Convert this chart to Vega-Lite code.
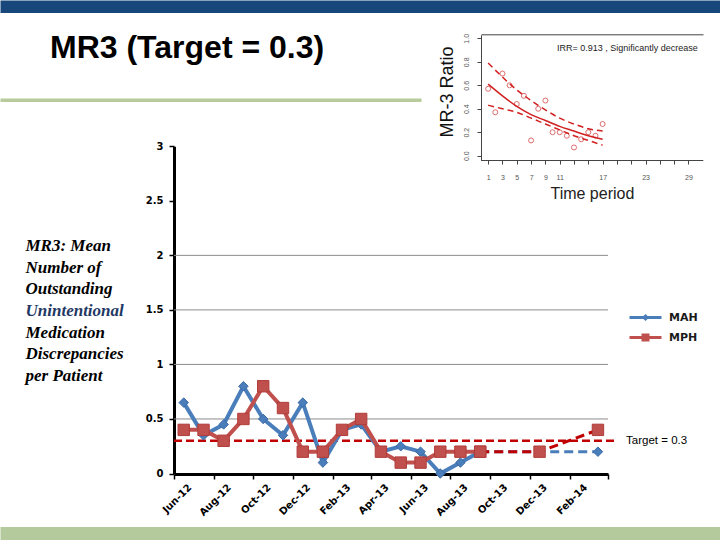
{
  "$schema": "https://vega.github.io/schema/vega-lite/v6.json",
  "width": 720,
  "height": 540,
  "autosize": {"type": "none"},
  "padding": 0,
  "background": "white",
  "config": {
    "view": {"stroke": null},
    "font": "Liberation Sans",
    "axis": {"grid": false}
  },
  "title": {
    "text": "MR3 (Target = 0.3)",
    "anchor": "start",
    "frame": "group",
    "font": "Liberation Sans",
    "fontSize": 32,
    "fontWeight": "bold",
    "color": "#000000",
    "offset": 0,
    "dx": 50,
    "dy": 65
  },
  "datasets": {
    "mr3": [
      {"month": "2012/06/01", "series": "MAH", "value": 0.65, "status": "reported"},
      {"month": "2012/07/01", "series": "MAH", "value": 0.35, "status": "reported"},
      {"month": "2012/08/01", "series": "MAH", "value": 0.45, "status": "reported"},
      {"month": "2012/09/01", "series": "MAH", "value": 0.8, "status": "reported"},
      {"month": "2012/10/01", "series": "MAH", "value": 0.5, "status": "reported"},
      {"month": "2012/11/01", "series": "MAH", "value": 0.35, "status": "reported"},
      {"month": "2012/12/01", "series": "MAH", "value": 0.65, "status": "reported"},
      {"month": "2013/01/01", "series": "MAH", "value": 0.1, "status": "reported"},
      {"month": "2013/02/01", "series": "MAH", "value": 0.4, "status": "reported"},
      {"month": "2013/03/01", "series": "MAH", "value": 0.45, "status": "reported"},
      {"month": "2013/04/01", "series": "MAH", "value": 0.2, "status": "reported"},
      {"month": "2013/05/01", "series": "MAH", "value": 0.25, "status": "reported"},
      {"month": "2013/06/01", "series": "MAH", "value": 0.2, "status": "reported"},
      {"month": "2013/07/01", "series": "MAH", "value": 0.0, "status": "reported"},
      {"month": "2013/08/01", "series": "MAH", "value": 0.1, "status": "reported"},
      {"month": "2013/09/01", "series": "MAH", "value": 0.2, "status": "reported"},
      {"month": "2013/09/01", "series": "MAH", "value": 0.2, "status": "projected"},
      {"month": "2014/03/01", "series": "MAH", "value": 0.2, "status": "projected"},
      {"month": "2012/06/01", "series": "MPH", "value": 0.4, "status": "reported"},
      {"month": "2012/07/01", "series": "MPH", "value": 0.4, "status": "reported"},
      {"month": "2012/08/01", "series": "MPH", "value": 0.3, "status": "reported"},
      {"month": "2012/09/01", "series": "MPH", "value": 0.5, "status": "reported"},
      {"month": "2012/10/01", "series": "MPH", "value": 0.8, "status": "reported"},
      {"month": "2012/11/01", "series": "MPH", "value": 0.6, "status": "reported"},
      {"month": "2012/12/01", "series": "MPH", "value": 0.2, "status": "reported"},
      {"month": "2013/01/01", "series": "MPH", "value": 0.2, "status": "reported"},
      {"month": "2013/02/01", "series": "MPH", "value": 0.4, "status": "reported"},
      {"month": "2013/03/01", "series": "MPH", "value": 0.5, "status": "reported"},
      {"month": "2013/04/01", "series": "MPH", "value": 0.2, "status": "reported"},
      {"month": "2013/05/01", "series": "MPH", "value": 0.1, "status": "reported"},
      {"month": "2013/06/01", "series": "MPH", "value": 0.1, "status": "reported"},
      {"month": "2013/07/01", "series": "MPH", "value": 0.2, "status": "reported"},
      {"month": "2013/08/01", "series": "MPH", "value": 0.2, "status": "reported"},
      {"month": "2013/09/01", "series": "MPH", "value": 0.2, "status": "reported"},
      {"month": "2013/09/01", "series": "MPH", "value": 0.2, "status": "projected"},
      {"month": "2013/12/01", "series": "MPH", "value": 0.2, "status": "projected"},
      {"month": "2014/03/01", "series": "MPH", "value": 0.4, "status": "projected"}
    ],
    "gridlines": [{"value": 0.5}, {"value": 1}, {"value": 1.5}, {"value": 2}],
    "target": [{"label": "Target = 0.3", "value": 0.3}],
    "series": [{"series": "MAH"}, {"series": "MPH"}],
    "trend_points": [
      {"period": 1, "ratio": 0.57}, {"period": 2, "ratio": 0.37}, {"period": 3, "ratio": 0.7},
      {"period": 4, "ratio": 0.6}, {"period": 5, "ratio": 0.44}, {"period": 6, "ratio": 0.51},
      {"period": 7, "ratio": 0.13}, {"period": 8, "ratio": 0.4}, {"period": 9, "ratio": 0.47},
      {"period": 10, "ratio": 0.2}, {"period": 11, "ratio": 0.2}, {"period": 12, "ratio": 0.17},
      {"period": 13, "ratio": 0.07}, {"period": 14, "ratio": 0.14}, {"period": 15, "ratio": 0.2},
      {"period": 16, "ratio": 0.17}, {"period": 17, "ratio": 0.27}
    ],
    "trend_curves": [
      {"period": 1, "curve": "fit", "ratio": 0.61}, {"period": 3, "curve": "fit", "ratio": 0.51},
      {"period": 5, "curve": "fit", "ratio": 0.42}, {"period": 7, "curve": "fit", "ratio": 0.35},
      {"period": 9, "curve": "fit", "ratio": 0.3}, {"period": 11, "curve": "fit", "ratio": 0.25},
      {"period": 13, "curve": "fit", "ratio": 0.21}, {"period": 15, "curve": "fit", "ratio": 0.17},
      {"period": 17, "curve": "fit", "ratio": 0.14},
      {"period": 1, "curve": "upper", "ratio": 0.79}, {"period": 3, "curve": "upper", "ratio": 0.67},
      {"period": 5, "curve": "upper", "ratio": 0.56}, {"period": 7, "curve": "upper", "ratio": 0.47},
      {"period": 9, "curve": "upper", "ratio": 0.39}, {"period": 11, "curve": "upper", "ratio": 0.32},
      {"period": 13, "curve": "upper", "ratio": 0.27}, {"period": 15, "curve": "upper", "ratio": 0.23},
      {"period": 17, "curve": "upper", "ratio": 0.21},
      {"period": 1, "curve": "lower", "ratio": 0.43}, {"period": 3, "curve": "lower", "ratio": 0.4},
      {"period": 5, "curve": "lower", "ratio": 0.37}, {"period": 7, "curve": "lower", "ratio": 0.32},
      {"period": 9, "curve": "lower", "ratio": 0.27}, {"period": 11, "curve": "lower", "ratio": 0.22},
      {"period": 13, "curve": "lower", "ratio": 0.17}, {"period": 15, "curve": "lower", "ratio": 0.13},
      {"period": 17, "curve": "lower", "ratio": 0.09}
    ]
  },
  "layer": [
    {
      "data": {"values": [{"v": 0}]},
      "mark": {"type": "point", "opacity": 0},
      "encoding": {
        "x": {
          "field": "v", "type": "quantitative",
          "scale": {"domain": [0, 1], "range": [0, 720], "nice": false, "zero": false},
          "axis": {"orient": "top", "offset": -6.3, "domainColor": "#17477b", "domainWidth": 12.6, "ticks": false, "labels": false, "title": null}
        }
      }
    },
    {
      "data": {"values": [{"v": 0}]},
      "mark": {"type": "point", "opacity": 0},
      "encoding": {
        "x": {
          "field": "v", "type": "quantitative",
          "scale": {"domain": [0, 1], "range": [0, 720], "nice": false, "zero": false},
          "axis": {"orient": "bottom", "offset": -6.8, "domainColor": "#b4ca9c", "domainWidth": 13.6, "ticks": false, "labels": false, "title": null}
        }
      }
    },
    {
      "data": {"values": [{"v": 0}]},
      "mark": {"type": "point", "opacity": 0},
      "encoding": {
        "x": {
          "field": "v", "type": "quantitative",
          "scale": {"domain": [0, 1], "range": [0, 421], "nice": false, "zero": false},
          "axis": {
            "orient": "top", "offset": -99.7, "domainColor": "#b7cb9d", "domainWidth": 3.5, "ticks": false, "labels": false,
            "title": ["Medication", "Discrepancies", "per Patient"],
            "titleFont": "Liberation Serif", "titleFontStyle": "italic", "titleFontWeight": "bold",
            "titleFontSize": 17, "titleColor": "#000000", "titleLineHeight": 21.6,
            "titleAlign": "left", "titleAngle": 0, "titleBaseline": "alphabetic",
            "titleX": 25, "titleY": 237.6
          }
        }
      }
    },
    {
      "data": {"values": [{"v": 0}]},
      "mark": {"type": "point", "opacity": 0},
      "encoding": {
        "x": {
          "field": "v", "type": "quantitative",
          "scale": {"domain": [0, 1], "range": [481, 703], "nice": false, "zero": false},
          "axis": {"orient": "top", "offset": -34.3, "domainColor": "#444444", "domainWidth": 1, "ticks": false, "labels": false, "title": null}
        }
      }
    },
    {
      "layer": [
        {
          "data": {"name": "gridlines"},
          "mark": {"type": "rule", "color": "#8c8c8c", "strokeWidth": 1},
          "encoding": {
            "x": {
              "datum": {"year": 2012, "month": 6, "date": 1}, "type": "temporal",
              "scale": {"domain": [{"year": 2012, "month": 6, "date": 1}, {"year": 2014, "month": 4, "date": 1}], "range": [174, 608]},
              "axis": {
                "orient": "bottom", "offset": -66,
                "values": [
                  {"year": 2012, "month": 6, "date": 1}, {"year": 2012, "month": 8, "date": 1},
                  {"year": 2012, "month": 10, "date": 1}, {"year": 2012, "month": 12, "date": 1},
                  {"year": 2013, "month": 2, "date": 1}, {"year": 2013, "month": 4, "date": 1},
                  {"year": 2013, "month": 6, "date": 1}, {"year": 2013, "month": 8, "date": 1},
                  {"year": 2013, "month": 10, "date": 1}, {"year": 2013, "month": 12, "date": 1},
                  {"year": 2014, "month": 2, "date": 1}, {"year": 2014, "month": 4, "date": 1}
                ],
                "labelExpr": "datum.index >= 1 ? '' : timeFormat(datum.value, '%b-%y')",
                "labelAngle": -45, "labelAlign": "right", "labelBaseline": "top",
                "labelOffset": 12, "labelPadding": 3,
                "labelFont": "DejaVu Sans", "labelFontWeight": "bold", "labelFontSize": 10, "labelColor": "#000000",
                "labelOverlap": false, "labelBound": false, "labelFlush": false,
                "domainColor": "#000000", "domainWidth": 3,
                "tickColor": "#000000", "tickWidth": 1.5, "tickSize": 5,
                "title": "Unintentional",
                "titleFont": "Liberation Serif", "titleFontStyle": "italic", "titleFontWeight": "bold",
                "titleFontSize": 17, "titleColor": "#1f3864",
                "titleAlign": "left", "titleAngle": 0, "titleBaseline": "alphabetic",
                "titleX": 25, "titleY": -158.3
              }
            },
            "x2": {"datum": {"year": 2014, "month": 4, "date": 1}},
            "y": {
              "field": "value", "type": "quantitative",
              "scale": {"domain": [0, 3], "range": [473.5, 146.3], "nice": false, "zero": false},
              "axis": {
                "orient": "left", "offset": -174,
                "values": [0, 0.5, 1, 1.5, 2, 2.5, 3],
                "labelExpr": "datum.value",
                "labelFont": "DejaVu Sans", "labelFontWeight": "bold", "labelFontSize": 10, "labelColor": "#000000",
                "labelPadding": 6,
                "domainColor": "#000000", "domainWidth": 3,
                "tickColor": "#000000", "tickWidth": 1.5, "tickSize": 5,
                "title": ["MR3: Mean", "Number of", "Outstanding"],
                "titleFont": "Liberation Serif", "titleFontStyle": "italic", "titleFontWeight": "bold",
                "titleFontSize": 17, "titleColor": "#000000", "titleLineHeight": 21.6,
                "titleAlign": "left", "titleAngle": 0, "titleBaseline": "alphabetic",
                "titleX": -149, "titleY": 250.7
              }
            }
          }
        },
        {
          "data": {"name": "target"},
          "mark": {"type": "rule", "color": "#c00000", "strokeWidth": 2.5, "strokeDash": [8, 4]},
          "encoding": {
            "x": {"datum": {"year": 2012, "month": 6, "date": 1}, "type": "temporal"},
            "x2": {"datum": {"year": 2014, "month": 4, "date": 15}},
            "y": {"field": "value", "type": "quantitative"}
          }
        },
        {
          "data": {"name": "target"},
          "mark": {"type": "text", "align": "left", "baseline": "middle", "dx": 9, "fontSize": 11.5, "font": "Liberation Sans", "color": "#000000"},
          "encoding": {
            "x": {"datum": {"year": 2014, "month": 4, "date": 15}, "type": "temporal"},
            "y": {"field": "value", "type": "quantitative"},
            "text": {"field": "label"}
          }
        },
        {
          "data": {"name": "mr3"},
          "transform": [{"filter": "datum.series == 'MAH' && datum.status == 'reported'"}],
          "mark": {"type": "line", "color": "#4a7ebb", "strokeWidth": 4},
          "encoding": {
            "x": {"field": "month", "type": "temporal", "timeUnit": "yearmonth", "bandPosition": 0.5},
            "y": {"field": "value", "type": "quantitative"}
          }
        },
        {
          "data": {"name": "mr3"},
          "transform": [{"filter": "datum.series == 'MAH' && datum.status == 'projected'"}],
          "mark": {"type": "line", "color": "#4a7ebb", "strokeWidth": 3, "strokeDash": [9, 5]},
          "encoding": {
            "x": {"field": "month", "type": "temporal", "timeUnit": "yearmonth", "bandPosition": 0.5},
            "y": {"field": "value", "type": "quantitative"}
          }
        },
        {
          "data": {"name": "mr3"},
          "transform": [{"filter": "datum.series == 'MAH'"}],
          "mark": {"type": "point", "shape": "diamond", "filled": true, "size": 90, "color": "#4a7ebb", "stroke": "#3c6aa6", "strokeWidth": 1, "opacity": 1},
          "encoding": {
            "x": {"field": "month", "type": "temporal", "timeUnit": "yearmonth", "bandPosition": 0.5},
            "y": {"field": "value", "type": "quantitative"}
          }
        },
        {
          "data": {"name": "mr3"},
          "transform": [{"filter": "datum.series == 'MPH' && datum.status == 'reported'"}],
          "mark": {"type": "line", "color": "#c0504d", "strokeWidth": 4},
          "encoding": {
            "x": {"field": "month", "type": "temporal", "timeUnit": "yearmonth", "bandPosition": 0.5},
            "y": {"field": "value", "type": "quantitative"}
          }
        },
        {
          "data": {"name": "mr3"},
          "transform": [{"filter": "datum.series == 'MPH' && datum.status == 'projected'"}],
          "mark": {"type": "line", "color": "#c00000", "strokeWidth": 3, "strokeDash": [9, 5]},
          "encoding": {
            "x": {"field": "month", "type": "temporal", "timeUnit": "yearmonth", "bandPosition": 0.5},
            "y": {"field": "value", "type": "quantitative"}
          }
        },
        {
          "data": {"name": "mr3"},
          "transform": [{"filter": "datum.series == 'MPH'"}],
          "mark": {"type": "point", "shape": "square", "filled": true, "size": 130, "color": "#c0504d", "stroke": "#b03c3a", "strokeWidth": 1, "opacity": 1},
          "encoding": {
            "x": {"field": "month", "type": "temporal", "timeUnit": "yearmonth", "bandPosition": 0.5},
            "y": {"field": "value", "type": "quantitative"}
          }
        },
        {
          "data": {"name": "series"},
          "mark": {"type": "point", "filled": true, "size": 0, "opacity": 1},
          "encoding": {
            "color": {
              "field": "series", "type": "nominal",
              "scale": {"domain": ["MAH", "MPH"], "range": ["#4a7ebb", "#c0504d"]},
              "legend": {
                "title": null, "orient": "none", "legendX": 640, "legendY": 312,
                "symbolSize": 64, "symbolOpacity": 1, "symbolStrokeWidth": 0,
                "labelOffset": 18, "rowPadding": 8,
                "labelFont": "DejaVu Sans", "labelFontWeight": "bold", "labelFontSize": 11, "labelColor": "#1a1a1a"
              }
            },
            "shape": {
              "field": "series", "type": "nominal",
              "scale": {
                "domain": ["MAH", "MPH"],
                "range": [
                  "M-4,-0.35L4,-0.35L4,0.35L-4,0.35Z M0,-0.9L0.9,0L0,0.9L-0.9,0Z",
                  "M-4,-0.35L4,-0.35L4,0.35L-4,0.35Z M-1,-1L1,-1L1,1L-1,1Z"
                ]
              }
            }
          }
        }
      ]
    },
    {
      "layer": [
        {
          "data": {"name": "trend_points"},
          "mark": {"type": "point", "shape": "circle", "filled": false, "size": 25, "color": "#d03030", "strokeWidth": 1},
          "encoding": {
            "x": {
              "field": "period", "type": "quantitative",
              "scale": {"domain": [0, 31], "range": [481, 702.8], "nice": false, "zero": false},
              "axis": {
                "orient": "bottom", "offset": -380,
                "values": [1, 2, 3, 4, 5, 6, 7, 8, 9, 10, 11, 12, 13, 14, 15, 16, 17, 18, 19, 20, 21, 22, 23, 24, 25, 26, 27, 28, 29, 30],
                "labelExpr": "indexof([1, 3, 5, 7, 9, 11, 14, 17, 20, 23, 26, 29], datum.value) >= 0 ? datum.label : ''",
                "labelFontSize": 7, "labelColor": "#555555", "labelPadding": 9,
                "labelOverlap": false, "labelFlush": false, "labelBound": false,
                "domainColor": "#444444", "tickColor": "#444444", "tickSize": 4,
                "title": "Time period", "titleFontSize": 16, "titleFontWeight": "normal", "titleColor": "#222222", "titlePadding": 5
              }
            },
            "y": {
              "field": "ratio", "type": "quantitative",
              "scale": {"domain": [-0.04, 1.03], "range": [160.4, 34.8], "nice": false, "zero": false},
              "axis": {
                "orient": "left", "offset": -481,
                "values": [0, 0.2, 0.4, 0.6, 0.8, 1],
                "format": ".1f",
                "labelAngle": -90, "labelAlign": "center", "labelBaseline": "bottom",
                "labelFontSize": 7, "labelColor": "#555555", "labelPadding": 8,
                "labelOverlap": false, "labelFlush": false, "labelBound": false,
                "domainColor": "#444444", "tickColor": "#444444", "tickSize": 4,
                "title": "MR-3 Ratio", "titleFontSize": 18, "titleFontWeight": "normal", "titleColor": "#111111",
                "titlePadding": 6, "titleY": 91.5
              }
            }
          }
        },
        {
          "data": {"name": "trend_curves"},
          "transform": [{"filter": "datum.curve == 'fit'"}],
          "mark": {"type": "line", "color": "#d02020", "strokeWidth": 1.5, "interpolate": "monotone"},
          "encoding": {
            "x": {"field": "period", "type": "quantitative"},
            "y": {"field": "ratio", "type": "quantitative"}
          }
        },
        {
          "data": {"name": "trend_curves"},
          "transform": [{"filter": "datum.curve != 'fit'"}],
          "mark": {"type": "line", "color": "#d02020", "strokeWidth": 1.5, "strokeDash": [6, 4], "interpolate": "monotone"},
          "encoding": {
            "x": {"field": "period", "type": "quantitative"},
            "y": {"field": "ratio", "type": "quantitative"},
            "detail": {"field": "curve"}
          }
        },
        {
          "data": {"values": [{"note": "IRR= 0.913 , Significantly decrease"}]},
          "mark": {"type": "text", "align": "right", "baseline": "middle", "fontSize": 9, "color": "#222222"},
          "encoding": {
            "x": {"datum": 30.3, "type": "quantitative"},
            "y": {"datum": 0.917, "type": "quantitative"},
            "text": {"field": "note"}
          }
        }
      ]
    }
  ],
  "resolve": {"scale": {"x": "independent", "y": "independent"}}
}
